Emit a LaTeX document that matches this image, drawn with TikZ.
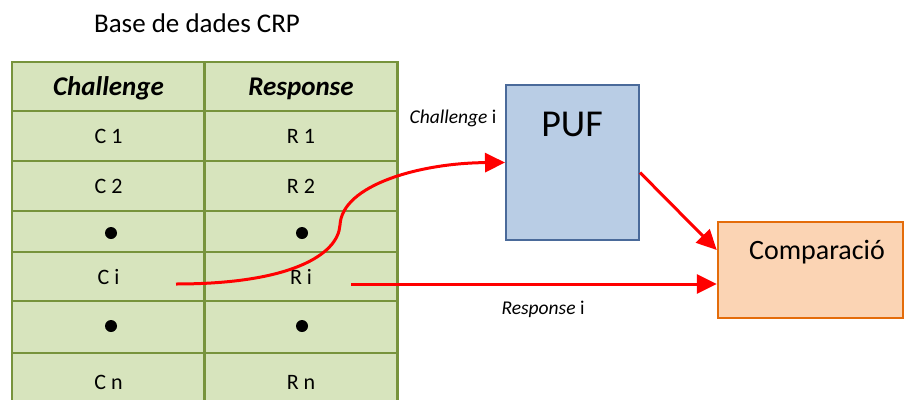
\documentclass[tikz,border=0pt]{standalone}
\usepackage{fontspec}
\setmainfont{Carlito}
\usetikzlibrary{arrows.meta}
\definecolor{cellgreen}{HTML}{D7E4BD}
\definecolor{cellline}{HTML}{77933C}
\definecolor{pufblue}{HTML}{B9CDE5}
\definecolor{pufline}{HTML}{4A6A9A}
\definecolor{cmporange}{HTML}{FBD4B4}
\definecolor{cmpline}{HTML}{E46C0A}

\begin{document}
\begin{tikzpicture}[x=1pt, y=-1pt,
  cell/.style={draw=cellline, fill=cellgreen, line width=2.5pt, minimum width=193pt, inner sep=0pt, text depth=0pt, font=\fontsize{22}{25}\selectfont},
  hdr/.style={cell, font=\fontsize{27}{30}\selectfont\bfseries\itshape},
  dot/.style={circle, fill=black, inner sep=0pt, minimum size=12pt},
  link/.style={red, line width=3pt, -{Triangle[length=20pt,width=19pt]}},
  lbl/.style={font=\fontsize{19.5}{22}\selectfont}]
\useasboundingbox (0,0) rectangle (904,399);
\clip (0,0) rectangle (904,399);

\node (title) at (197,23) {\fontsize{27}{30}\selectfont Base de dades CRP};

% table
\node[hdr, minimum height=49pt] (hc) at (108.5,86.5) {Challenge};
\node[hdr, minimum height=49pt] (hr) at (301,86.5) {Response};
\node[cell, minimum height=50pt] (c1) at (108.5,136) {C 1};
\node[cell, minimum height=50pt] (r1) at (301,136) {R 1};
\node[cell, minimum height=50pt] (c2) at (108.5,186) {C 2};
\node[cell, minimum height=50pt] (r2) at (301,186) {R 2};
\node[cell, minimum height=41pt] (cd1) at (108.5,231.5) {};
\node[cell, minimum height=41pt] (rd1) at (301,231.5) {};
\node[cell, minimum height=49pt] (ci) at (108.5,276.5) {C i};
\node[cell, minimum height=49pt] (ri) at (301,276.5) {R i};
\node[cell, minimum height=52pt] (cd2) at (108.5,327) {};
\node[cell, minimum height=52pt] (rd2) at (301,327) {};
\node[cell, minimum height=58pt] (cn) at (108.5,382) {C n};
\node[cell, minimum height=58pt] (rn) at (301,382) {R n};

\node[dot] (dc1) at (111,233) {};
\node[dot] (dr1) at (302,233) {};
\node[dot] (dc2) at (111,326) {};
\node[dot] (dr2) at (302,326) {};

% boxes
\node[draw=pufline, fill=pufblue, line width=2pt, minimum width=133pt, minimum height=155pt] (puf) at (572.5,162.5) {};
\node (puftxt) at (572,124) {\fontsize{38}{42}\selectfont PUF};
\node[draw=cmpline, fill=cmporange, line width=2.5pt, minimum width=185pt, minimum height=96pt] (cmp) at (810.5,270) {};
\node (cmptxt) at (817,252) {\fontsize{28}{31}\selectfont Comparació};

\node[lbl] (chl) at (453,118) {\textit{Challenge} i};
\node[lbl] (rsl) at (543,309) {\textit{Response} i};

% arrows
\coordinate (cout) at (176,284);
\coordinate (rout) at (351,284);
\draw[link] (cout) .. controls (290,284) and (338,255) .. (340,225)
  .. controls (342,185) and (420,163) .. (puf.west);
\draw[link] (rout) -- (rout -| cmp.west);
\draw[link] ([yshift=-10pt]puf.east) -- ([yshift=20pt]cmp.west);
\end{tikzpicture}
\end{document}
